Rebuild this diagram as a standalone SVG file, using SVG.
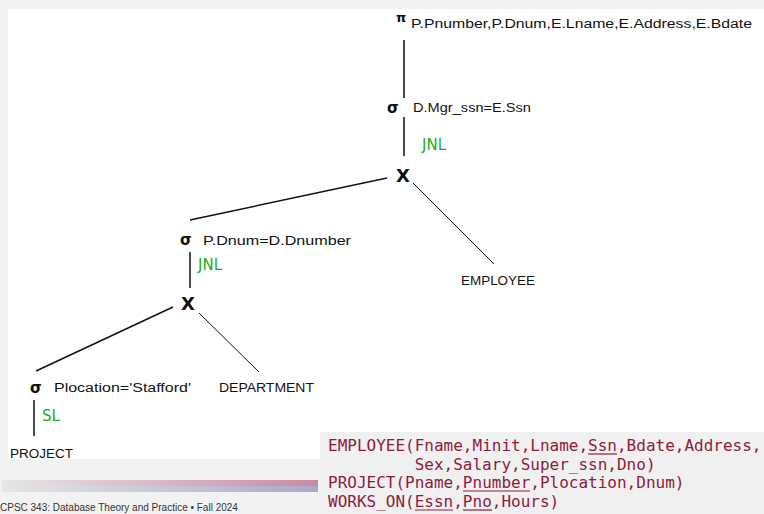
<svg xmlns="http://www.w3.org/2000/svg" width="764" height="514" viewBox="0 0 764 514">
<defs>
<linearGradient id="gTop" x1="0" x2="1" y1="0" y2="0"><stop offset="0" stop-color="#e6e6e6"/><stop offset="1" stop-color="#c98aa2"/></linearGradient>
<linearGradient id="gBot" x1="0" x2="1" y1="0" y2="0"><stop offset="0" stop-color="#e6e6e6"/><stop offset="1" stop-color="#a9a9cc"/></linearGradient>
<style>
.t{font-family:"Liberation Sans","DejaVu Sans",sans-serif;font-size:12px;fill:#111}
.op{font-family:"DejaVu Sans",sans-serif;font-weight:bold;fill:#111}
.g{font-family:"DejaVu Sans",sans-serif;font-size:15px;fill:#22aa22}
.c{font-family:"DejaVu Sans Mono",monospace;font-size:16px;fill:#8c1c3c}
.e{stroke:#111;fill:none}
.u{stroke:#8c1c3c;stroke-width:1.2}
</style>
</defs>
<rect width="764" height="514" fill="#f2f2f2"/>
<rect x="8" y="9" width="756" height="450" fill="#ffffff"/>
<g id="connectors">
<line class="e" x1="404" y1="40" x2="404" y2="98" stroke-width="1.5"/>
<line class="e" x1="404" y1="117" x2="404" y2="156" stroke-width="1.5"/>
<line class="e" x1="387" y1="178" x2="190" y2="220" stroke-width="1.5"/>
<line class="e" x1="413" y1="183" x2="494" y2="264" stroke-width="1"/>
<line class="e" x1="190" y1="252" x2="190" y2="288" stroke-width="1.5"/>
<line class="e" x1="173" y1="307" x2="36" y2="371" stroke-width="1.5"/>
<line class="e" x1="199" y1="313" x2="259" y2="372" stroke-width="1"/>
<line class="e" x1="34" y1="400" x2="34" y2="436" stroke-width="1.5"/>
</g>
<g id="project-op">
<text class="op" x="396" y="22" font-size="13">π</text>
<text class="t" x="411" y="28" textLength="341" lengthAdjust="spacingAndGlyphs">P.Pnumber,P.Dnum,E.Lname,E.Address,E.Bdate</text>
</g>
<g id="select-mgr">
<text class="op" x="387" y="113" font-size="15">σ</text>
<text class="t" x="413" y="112" textLength="118" lengthAdjust="spacingAndGlyphs">D.Mgr_ssn=E.Ssn</text>
</g>
<text class="g" x="422" y="150">JNL</text>
<g id="cross1"><text class="op" x="403" y="182" font-size="18" text-anchor="middle">X</text></g>
<g id="employee"><text class="t" x="461" y="285" textLength="74" lengthAdjust="spacingAndGlyphs">EMPLOYEE</text></g>
<g id="select-dnum">
<text class="op" x="180" y="245" font-size="15">σ</text>
<text class="t" x="203" y="245" textLength="148" lengthAdjust="spacingAndGlyphs">P.Dnum=D.Dnumber</text>
</g>
<text class="g" x="198" y="270">JNL</text>
<g id="cross2"><text class="op" x="188" y="310" font-size="18" text-anchor="middle">X</text></g>
<g id="select-ploc">
<text class="op" x="30" y="393" font-size="15">σ</text>
<text class="t" x="54" y="392" textLength="137" lengthAdjust="spacingAndGlyphs">Plocation='Stafford'</text>
</g>
<g id="department"><text class="t" x="219" y="392" textLength="95" lengthAdjust="spacingAndGlyphs">DEPARTMENT</text></g>
<text class="g" x="42" y="421">SL</text>
<g id="projectrel"><text class="t" x="10" y="458" textLength="63" lengthAdjust="spacingAndGlyphs">PROJECT</text></g>
<rect x="320" y="432" width="444" height="82" fill="#f0f0f0"/>
<rect x="2" y="480" width="316" height="6" fill="url(#gTop)"/>
<rect x="2" y="486" width="316" height="6" fill="url(#gBot)"/>
<text x="0" y="511" font-family="Liberation Sans,Arial,sans-serif" font-size="10" fill="#333">CPSC 343: Database Theory and Practice  •  Fall 2024</text>
<g id="schema">
<text class="c" x="328" y="451">EMPLOYEE(Fname,Minit,Lname,Ssn,Bdate,Address,</text>
<text class="c" x="414.7" y="470">Sex,Salary,Super_ssn,Dno)</text>
<text class="c" x="328" y="488">PROJECT(Pname,Pnumber,Plocation,Dnum)</text>
<text class="c" x="328" y="507">WORKS_ON(Essn,Pno,Hours)</text>
<line class="u" x1="588" y1="454" x2="617" y2="454"/>
<line class="u" x1="463" y1="491" x2="530" y2="491"/>
<line class="u" x1="415" y1="510" x2="453" y2="510"/>
<line class="u" x1="463" y1="510" x2="492" y2="510"/>
</g>
</svg>
